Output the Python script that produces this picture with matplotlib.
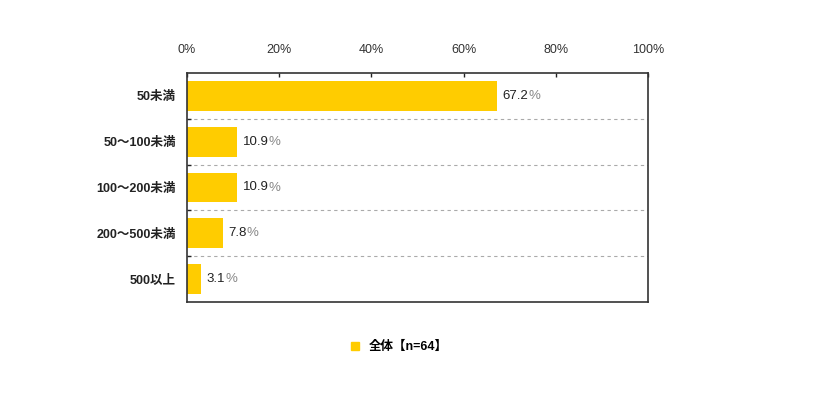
import matplotlib.pyplot as plt
import numpy as np
from matplotlib.lines import Line2D

plt.rcParams['font.family'] = ['Liberation Sans', 'Noto Sans CJK JP', 'DejaVu Sans']

# datos
categorias = ["50未満", "50～100未満", "100～200未満", "200～500未満", "500以上"]
valores = [67.2, 10.9, 10.9, 7.8, 3.1]
ticks_x = [0, 20, 40, 60, 80, 100]
leyenda = "全体【n=64】"

amarillo = "#FFCC00"

fig = plt.figure(figsize=(8.26, 3.94), dpi=100)
ax = fig.add_axes([187 / 826, 1 - 302 / 394, (648 - 187) / 826, (302 - 73) / 394])

n = len(categorias)
pos = np.arange(n)
ax.barh(pos, valores, height=0.65, color=amarillo, zorder=2)

ax.set_xlim(0, 100)
ax.set_ylim(n - 0.5, -0.5)

# separadores punteados
for y in np.arange(0.5, n - 0.5, 1):
    ax.axhline(y, color="#aaaaaa", lw=0.8, ls=(0, (3, 3)), zorder=1)

ax.xaxis.tick_top()
ax.set_xticks(ticks_x)
ax.set_xticklabels([f"{t}%" for t in ticks_x], fontsize=9, color="#333333")
ax.tick_params(axis="x", direction="in", length=3, width=1, pad=12, color="#222222")
ax.set_yticks(np.arange(0.5, n - 0.5, 1), minor=False)
ax.set_yticklabels([])
ax.tick_params(axis="y", direction="in", length=3, width=1, color="#222222")
ax.set_yticks(pos, minor=True)
ax.set_yticklabels(categorias, minor=True, fontsize=9, fontweight="bold", color="#222222")
ax.tick_params(axis="y", which="minor", length=0, pad=8)

for s in ax.spines.values():
    s.set_color("#333333")
    s.set_linewidth(1.2)

# etiquetas de valor: numero oscuro, % en gris
fig.canvas.draw()
renderer = fig.canvas.get_renderer()
for i, v in enumerate(valores):
    t = ax.annotate(f"{v:.1f}", xy=(v, i), xytext=(4, 0), textcoords="offset points",
                    va="center", ha="left", fontsize=9.5, color="#222222")
    bb = t.get_window_extent(renderer)
    xf, yf = fig.transFigure.inverted().transform((bb.x1, (bb.y0 + bb.y1) / 2))
    fig.text(xf, yf, "%", va="center", ha="left", fontsize=9.5, color="#888888")

# leyenda
ley = [Line2D([0], [0], marker="s", ls="", color=amarillo, markersize=6)]
fig.legend(ley, [leyenda], loc="center", bbox_to_anchor=(395 / 826, 1 - 347 / 394),
           frameon=False, handletextpad=0.1, prop={"weight": "bold", "size": 9})

fig.savefig("out.png", dpi=100)
